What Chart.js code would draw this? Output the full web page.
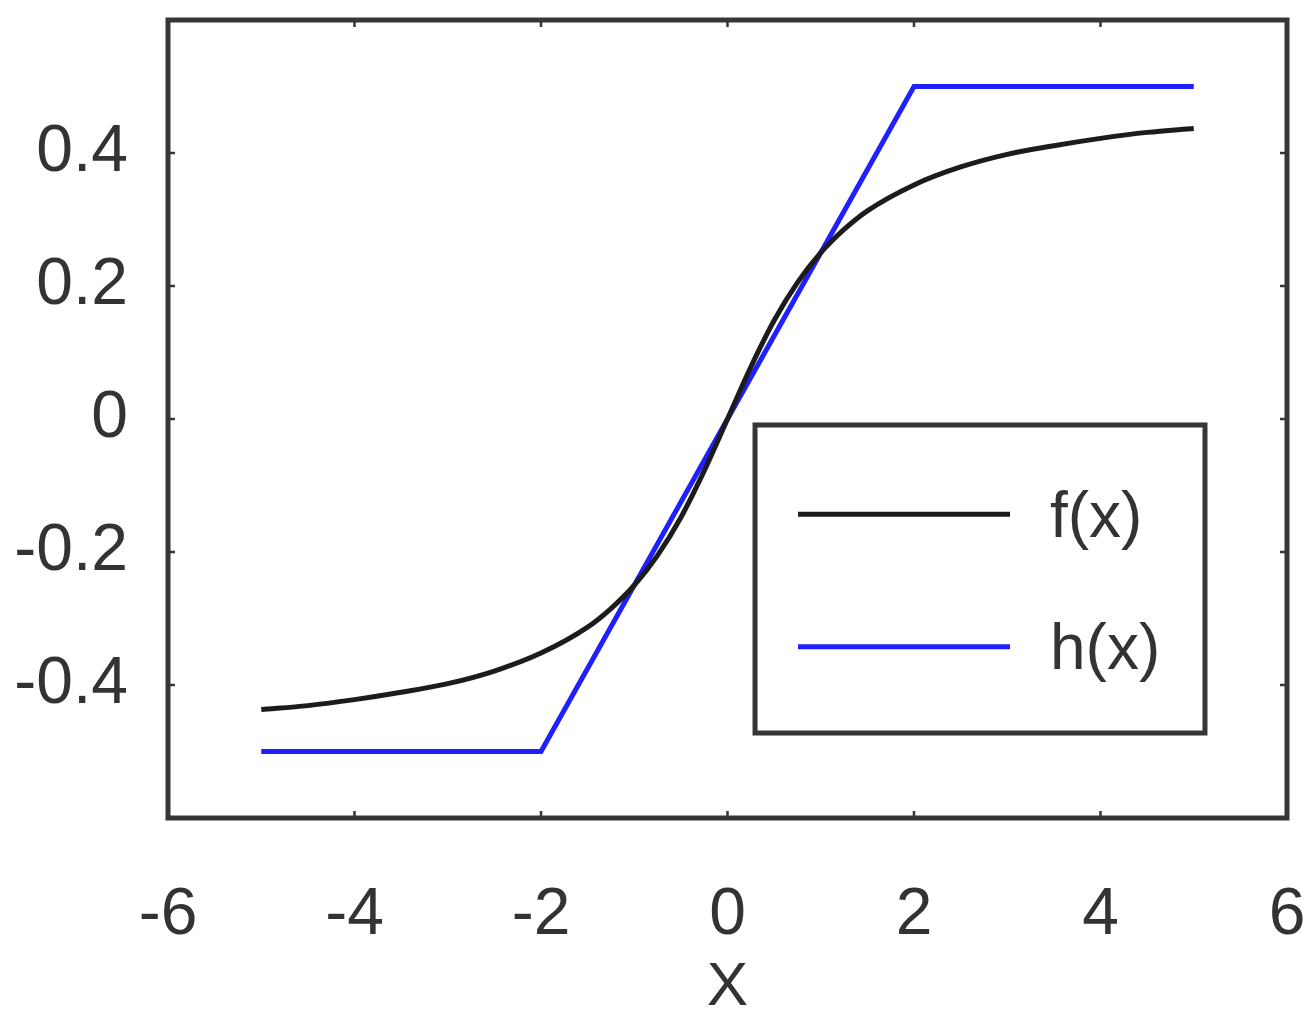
<!DOCTYPE html>
<html>
<head>
<meta charset="utf-8">
<script src="https://cdn.jsdelivr.net/npm/chart.js@4/dist/chart.umd.min.js"></script>
<style>
  html, body { margin: 0; padding: 0; background: #fff; }
  #wrap { width: 1311px; height: 1025px; }
</style>
</head>
<body>
<div id="wrap"><canvas id="plot"></canvas></div>
<script>
// values
const xF = [-5, -4.5, -4, -3.5, -3, -2.5, -2, -1.5, -1.25, -1, -0.75, -0.5, -0.25, 0,
            0.25, 0.5, 0.75, 1, 1.25, 1.5, 2, 2.5, 3, 3.5, 4, 4.5, 5];
const fValues = [-0.437, -0.431, -0.422, -0.411, -0.398, -0.379, -0.352, -0.313, -0.285, -0.25, -0.205, -0.148, -0.078, 0,
                 0.078, 0.148, 0.205, 0.25, 0.285, 0.313, 0.352, 0.379, 0.398, 0.411, 0.422, 0.431, 0.437];
const xH = [-5, -2, 2, 5];
const hValues = [-0.5, -0.5, 0.5, 0.5];
const xTicks = [-6, -4, -2, 0, 2, 4, 6];
const yTicks = [-0.4, -0.2, 0, 0.2, 0.4];
const seriesLabels = ['f(x)', 'h(x)'];

const FRAME = '#363636';
const FONT = "'Liberation Sans', Arial, sans-serif";

// frame + inward tick marks
const boxPlugin = {
    id: 'box',
    afterDraw(chart) {
        const { ctx, chartArea: a, scales } = chart;
        ctx.save();
        ctx.strokeStyle = FRAME;
        ctx.lineWidth = 2.5;
        const t = 7;
        ctx.beginPath();
        xTicks.forEach(v => {
            const px = scales.x.getPixelForValue(v);
            ctx.moveTo(px, a.bottom); ctx.lineTo(px, a.bottom - t);
            ctx.moveTo(px, a.top); ctx.lineTo(px, a.top + t);
        });
        yTicks.forEach(v => {
            const py = scales.y.getPixelForValue(v);
            ctx.moveTo(a.left, py); ctx.lineTo(a.left + t, py);
            ctx.moveTo(a.right, py); ctx.lineTo(a.right - t, py);
        });
        ctx.stroke();
        ctx.lineWidth = 5;
        ctx.strokeRect(a.left, a.top, a.right - a.left, a.bottom - a.top);
        ctx.restore();
    }
};

// legend box inside the plot
const legendPlugin = {
    id: 'boxLegend',
    afterDraw(chart) {
        const { ctx, chartArea: a } = chart;
        const w = a.right - a.left, h = a.bottom - a.top;
        const bx = a.left + 0.5246 * w, by = a.top + 0.5075 * h;
        const bw = 0.4021 * w, bh = 0.386 * h;
        ctx.save();
        ctx.fillStyle = '#fff';
        ctx.fillRect(bx, by, bw, bh);
        ctx.strokeStyle = FRAME;
        ctx.lineWidth = 5;
        ctx.strokeRect(bx, by, bw, bh);
        ctx.font = '64px ' + FONT;
        ctx.textBaseline = 'middle';
        chart.data.datasets.forEach((ds, i) => {
            const ly = by + bh * (i === 0 ? 0.29 : 0.72);
            ctx.strokeStyle = ds.borderColor;
            ctx.lineWidth = 5;
            ctx.beginPath();
            ctx.moveTo(bx + 43, ly);
            ctx.lineTo(bx + 255, ly);
            ctx.stroke();
            ctx.fillStyle = '#333';
            ctx.fillText(ds.label, bx + 295, ly + 5);
        });
        ctx.restore();
    }
};

function noPad(s) {
    s.paddingLeft = 0; s.paddingRight = 0; s.paddingTop = 0; s.paddingBottom = 0;
}

new Chart(document.getElementById('plot').getContext('2d'), {
    type: 'scatter',
    data: {
        datasets: [{
            label: seriesLabels[0],
            data: xF.map((x, i) => ({ x: x, y: fValues[i] })),
            showLine: true,
            borderColor: '#1c1c1c',
            borderWidth: 5,
            pointRadius: 0,
            cubicInterpolationMode: 'monotone'
        }, {
            label: seriesLabels[1],
            data: xH.map((x, i) => ({ x: x, y: hValues[i] })),
            showLine: true,
            borderColor: '#1f1fff',
            borderWidth: 5,
            pointRadius: 0,
            tension: 0
        }]
    },
    options: {
        responsive: true,
        maintainAspectRatio: false,
        animation: false,
        layout: { padding: { top: 20, right: 24, left: 0, bottom: 0 } },
        plugins: {
            legend: { display: false },
            tooltip: { enabled: false }
        },
        scales: {
            x: {
                type: 'linear',
                min: -6,
                max: 6,
                afterBuildTicks: s => { s.ticks = xTicks.map(v => ({ value: v })); },
                afterFit: s => { s.height = 207; noPad(s); },
                grid: { display: false, drawTicks: false },
                border: { display: false },
                ticks: {
                    padding: 58,
                    color: '#333',
                    font: { family: FONT, size: 66 },
                    callback: v => String(v)
                },
                title: {
                    display: true,
                    text: 'X',
                    color: '#333',
                    font: { family: FONT, size: 62 },
                    padding: { top: 0, bottom: 0 }
                }
            },
            y: {
                type: 'linear',
                min: -0.6,
                max: 0.6,
                afterBuildTicks: s => { s.ticks = yTicks.map(v => ({ value: v })); },
                afterFit: s => { s.width = 168; noPad(s); },
                grid: { display: false, drawTicks: false },
                border: { display: false },
                ticks: {
                    padding: 40,
                    color: '#333',
                    font: { family: FONT, size: 66 },
                    callback: v => String(v)
                }
            }
        }
    },
    plugins: [boxPlugin, legendPlugin]
});
</script>
</body>
</html>
